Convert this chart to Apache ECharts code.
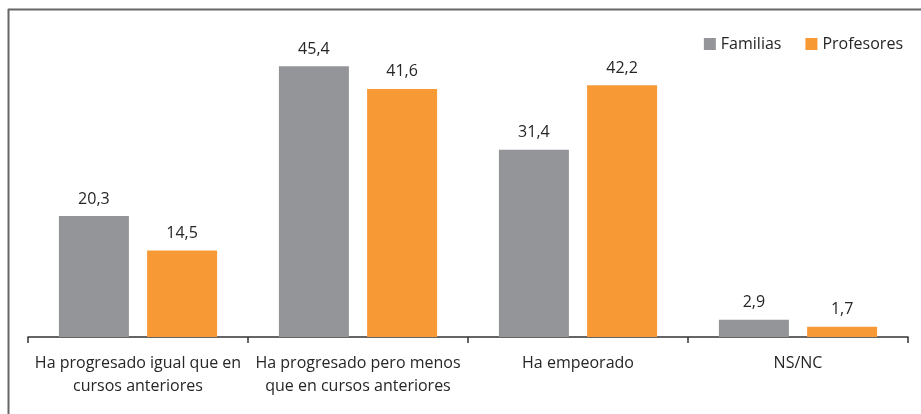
<!DOCTYPE html>
<html>
<head>
<meta charset="utf-8">
<script src="https://cdn.jsdelivr.net/npm/echarts@6/dist/echarts.min.js"></script>
<style>
  html, body { margin: 0; padding: 0; background: #fff; }
  #chart { width: 921px; height: 414px; }
</style>
</head>
<body>
<div id="chart"></div>
<script>
// Categories and values (percent)
const categories = [
  'Ha progresado igual que en\ncursos anteriores',
  'Ha progresado pero menos\nque en cursos anteriores',
  'Ha empeorado',
  'NS/NC'
];
const familias = [20.3, 45.4, 31.4, 2.9];
const profesores = [14.5, 41.6, 42.2, 1.7];
const seriesNames = ['Familias', 'Profesores'];

const FONT = '"Open Sans", "Noto Sans", sans-serif';
const fmt = p => p.value.toFixed(1).replace('.', ',');

const chart = echarts.init(document.getElementById('chart'), null, { renderer: 'canvas' });

chart.setOption({
  backgroundColor: '#ffffff',
  animation: false,
  textStyle: { fontFamily: FONT },
  graphic: [
    { type: 'line', shape: { x1: 8, y1: 9.5, x2: 921, y2: 9.5 }, style: { stroke: '#666666', lineWidth: 2 } },
    { type: 'line', shape: { x1: 8.5, y1: 9, x2: 8.5, y2: 414 }, style: { stroke: '#666666', lineWidth: 2 } }
  ],
  legend: {
    data: seriesNames,
    right: 13,
    top: 31,
    itemWidth: 12,
    itemHeight: 12,
    itemGap: 24,
    icon: 'rect',
    textStyle: { fontSize: 16, color: '#262626', fontFamily: FONT }
  },
  grid: { left: 28, right: 13, top: 9, bottom: 77 },
  xAxis: {
    type: 'category',
    data: categories,
    axisLine: { lineStyle: { color: '#333333', width: 1.5 } },
    axisTick: { show: true, length: 6, lineStyle: { color: '#333333', width: 1.5 } },
    axisLabel: {
      fontSize: 16,
      color: '#262626',
      lineHeight: 23,
      margin: 15,
      interval: 0,
      fontFamily: FONT
    }
  },
  yAxis: {
    type: 'value',
    min: 0,
    max: 55,
    show: false,
    splitLine: { show: false }
  },
  series: [
    {
      name: seriesNames[0],
      type: 'bar',
      data: familias,
      barWidth: 70,
      barGap: '26%',
      itemStyle: { color: '#939598' },
      label: { show: true, position: 'top', distance: 9, fontSize: 16, color: '#262626', formatter: fmt, fontFamily: FONT }
    },
    {
      name: seriesNames[1],
      type: 'bar',
      data: profesores,
      barWidth: 70,
      itemStyle: { color: '#F79A36' },
      label: { show: true, position: 'top', distance: 9, fontSize: 16, color: '#262626', formatter: fmt, fontFamily: FONT }
    }
  ]
});
</script>
</body>
</html>
